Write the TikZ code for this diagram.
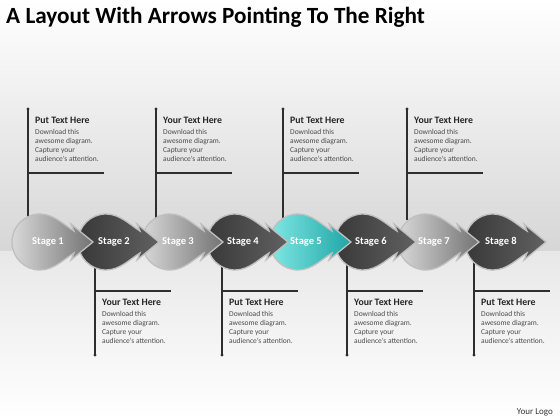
\documentclass[tikz,border=0pt]{standalone}
\usepackage{fontspec}
\setmainfont{Carlito}
\usetikzlibrary{calc}

\definecolor{linegray}{HTML}{2E2E2E}
\definecolor{bodygray}{HTML}{4A4A4A}
\definecolor{tealhi}{HTML}{7FE8E4}
\definecolor{teallo}{HTML}{1FA5A6}

\tikzset{
  drop/.style={draw=black!25, line width=1.3pt},
  lightdrop/.style={drop, left color=black!15, right color=black!55},
  darkdrop/.style={drop, left color=black!78, right color=black!62},
  tealdrop/.style={drop, left color=tealhi, right color=teallo},
  stagelbl/.style={text=white, font=\bfseries\fontsize{10.5}{12}\selectfont},
  leader/.style={linegray, line width=1.2pt},
  head/.style={anchor=base west, inner sep=0pt, font=\bfseries\fontsize{9.8}{11}\selectfont, text=black!85},
  body/.style={anchor=north west, inner sep=0pt, align=left, font=\fontsize{7.5}{9}\selectfont, text=bodygray},
}

% one stage: round drop with an arrow head, centre at the origin
\newcommand\droppath{(53,0) -- (31,18) -- (34,11) .. controls (24,17) and (14,28) .. (0,28)
  arc[start angle=90, end angle=270, radius=28]
  .. controls (14,-28) and (24,-17) .. (34,-11) -- (31,-18) -- cycle}

\begin{document}
\begin{tikzpicture}[x=1pt, y=1pt]
  \useasboundingbox (0,0) rectangle (560,420);

  % background
  \shade[top color=white, middle color=black!4, bottom color=black!16] (0,168) rectangle (560,420);
  \shade[top color=black!9, bottom color=white] (0,0) rectangle (560,168);

  \node[anchor=base west, inner sep=0pt, font=\bfseries\fontsize{23.2}{27}\selectfont] (title)
    at (6,396) {A Layout With Arrows Pointing To The Right};

  % callouts above
  \foreach \i/\lx/\hd in {1/28/Put, 3/156/Your, 5/283/Put, 7/407/Your} {
    \coordinate (tp\i) at (\lx,311);
    \coordinate (tb\i) at (\lx,200);
    \coordinate (te\i) at (\lx+76,247);
    \draw[leader] (tp\i) -- (tb\i);
    \draw[leader] (tp\i |- te\i) -- (te\i);
    \fill[linegray] (tp\i) circle[radius=1.7pt];
    \node[head] (th\i) at (\lx+7,296) {\hd{} Text Here};
    \node[body] (tx\i) at (\lx+7,290.5) {Download this\\awesome diagram.\\Capture your\\audience's attention.};
  }

  % callouts below
  \foreach \i/\lx/\hd in {2/95/Your, 4/222/Put, 6/347/Your, 8/474/Put} {
    \coordinate (bp\i) at (\lx,65);
    \coordinate (bb\i) at (\lx,158);
    \coordinate (be\i) at (\lx+76,129);
    \draw[leader] (bp\i) -- (bb\i);
    \draw[leader] (bp\i |- be\i) -- (be\i);
    \fill[linegray] (bp\i) circle[radius=1.7pt];
    \node[head] (bh\i) at (\lx+7,114) {\hd{} Text Here};
    \node[body] (bx\i) at (\lx+7,108.5) {Download this\\awesome diagram.\\Capture your\\audience's attention.};
  }

  % stages, right to left so each arrow head lies on the next drop
  \foreach \i/\cx/\sty in {8/493/darkdrop, 7/426/lightdrop, 6/363/darkdrop, 5/298/tealdrop,
                           4/235/darkdrop, 3/170/lightdrop, 2/106/darkdrop, 1/40/lightdrop} {
    \path[\sty, shift={(\cx,178)}] \droppath;
    \node[stagelbl] (s\i) at (\cx+8,178) {Stage \i};
  }

  \node[anchor=base east, inner sep=0pt, font=\fontsize{9}{10}\selectfont, text=black!80] (logo)
    at (553,5) {Your Logo};
\end{tikzpicture}
\end{document}
